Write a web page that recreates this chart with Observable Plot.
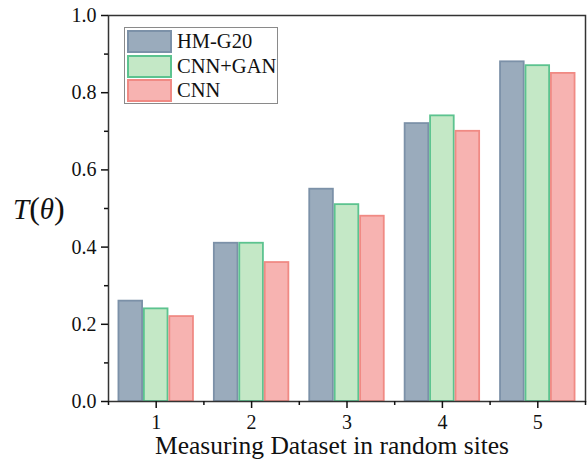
<!DOCTYPE html>
<html>
<head>
<meta charset="utf-8">
<script src="https://cdn.jsdelivr.net/npm/d3@7"></script>
<script src="https://cdn.jsdelivr.net/npm/@observablehq/plot@0.6"></script>
<style>
  html, body { margin: 0; padding: 0; background: #fff; font-family: 'Liberation Serif', serif; }
  #wrap { position: relative; width: 587px; height: 461px; }
  #legend { position: absolute; left: 124px; top: 27px; width: 154px; height: 77px; border: 1px solid #8a8a8a; background: #fff; box-sizing: border-box; }
  .row { position: absolute; left: 2px; height: 23px; display: flex; align-items: center; }
  .sw { width: 45px; height: 23px; border: 2px solid; box-sizing: border-box; }
  .lab { margin-left: 5px; font-size: 20.5px; color: #111; font-family: 'Liberation Serif', serif; }
  #ylab { position: absolute; left: 13px; top: 190px; font-size: 29px; line-height: 36px; color: #111; font-family: 'Liberation Serif', serif; }
  svg text { font-family: 'Liberation Serif', serif !important; }
</style>
</head>
<body>
<div id="wrap" style="font-family:'Liberation Serif', serif">
  <div id="chart"></div>
  <div id="legend"></div>
  <div id="ylab"><i>T</i><span style="font-size:32px">(</span><i>θ</i><span style="font-size:32px">)</span></div>
</div>
<script>
// Categories along the x axis and one value array per method
const datasets = [1, 2, 3, 4, 5];
const methods = ["HM-G20", "CNN+GAN", "CNN"];
const hmG20 = [0.26, 0.41, 0.55, 0.72, 0.88];
const cnnGan = [0.24, 0.41, 0.51, 0.74, 0.87];
const cnn = [0.22, 0.36, 0.48, 0.70, 0.85];
const yTicks = [0, 0.2, 0.4, 0.6, 0.8, 1.0];

const fills = ["#9aabbc", "#c4e8c6", "#f7b3b1"];
const strokes = ["#7c91a8", "#5cc38f", "#f08a84"];

const series = [hmG20, cnnGan, cnn];
const groupWidth = 0.8;
const barW = groupWidth / methods.length;
const rows = [];
series.forEach((vals, m) => {
  vals.forEach((v, i) => {
    const x1 = datasets[i] - groupWidth / 2 + m * barW;
    rows.push({method: methods[m], m, x1, x2: x1 + barW, value: v});
  });
});

const minorX = d3.range(0.5, 6, 1);
const minorY = d3.range(0.1, 1, 0.2);
const serif = "'Liberation Serif', serif";

const chart = Plot.plot({
  width: 587,
  height: 461,
  marginLeft: 108,
  marginRight: 2,
  marginTop: 15,
  marginBottom: 60,
  style: {fontFamily: serif, fontSize: "18px", color: "#111", background: "#fff"},
  x: {domain: [0.5, 5.5], label: null},
  y: {domain: [0, 1], label: null},
  color: {domain: methods, range: fills},
  marks: [
    Plot.rect(rows, {
      x1: "x1", x2: "x2", y1: 0, y2: "value",
      fill: "method",
      stroke: d => strokes[d.m],
      strokeWidth: 1.8,
      insetLeft: 0.9, insetRight: 0.9
    }),
    Plot.frame({stroke: "#333", strokeWidth: 1.5}),
    Plot.axisX(datasets, {label: null, tickSize: 7, tickPadding: 6, fontSize: 20, tickFormat: d => String(d), stroke: "#111", strokeWidth: 1.5}),
    Plot.axisX(minorX, {label: null, tickSize: 4, tickFormat: () => "", stroke: "#111", strokeWidth: 1.5}),
    Plot.axisY(yTicks, {label: null, tickSize: 7, tickPadding: 5, fontSize: 20, tickFormat: d3.format(".1f"), stroke: "#111", strokeWidth: 1.5}),
    Plot.axisY(minorY, {label: null, tickSize: 4, tickFormat: () => "", stroke: "#111", strokeWidth: 1.5}),
    Plot.text(["Measuring Dataset in random sites"], {
      frameAnchor: "bottom", dy: 52, dx: -15, fontSize: 25.5, fill: "#111"
    })
  ]
});
chart.style.fontFamily = serif;
chart.querySelectorAll("g, text").forEach(el => el.setAttribute("font-family", serif));
document.getElementById("chart").appendChild(chart);

// Legend box
const legend = document.getElementById("legend");
methods.forEach((name, i) => {
  const row = document.createElement("div");
  row.className = "row";
  row.style.top = (2 + i * 24.5) + "px";
  const sw = document.createElement("div");
  sw.className = "sw";
  sw.style.background = fills[i];
  sw.style.borderColor = strokes[i];
  const lab = document.createElement("span");
  lab.className = "lab";
  lab.textContent = name;
  row.appendChild(sw);
  row.appendChild(lab);
  legend.appendChild(row);
});
</script>
</body>
</html>
